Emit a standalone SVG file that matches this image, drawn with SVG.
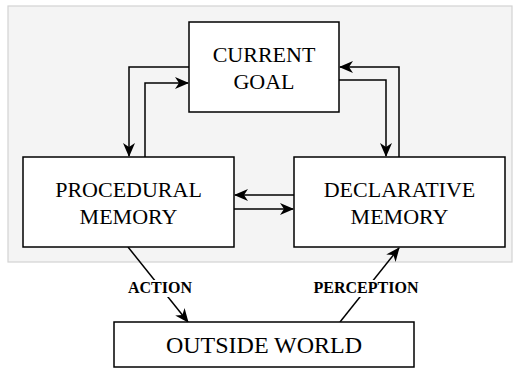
<svg xmlns="http://www.w3.org/2000/svg" width="513" height="369" viewBox="0 0 513 369">
  <style>
    .box { fill: #ffffff; stroke: #000000; stroke-width: 1.5; }
    .lbl { font-family: "Liberation Serif", "Times New Roman", serif; font-size: 22px; fill: #000; text-anchor: middle; }
    .edge { fill: none; stroke: #000000; stroke-width: 1.5; marker-end: url(#arrow); }
    .tag { font-family: "Liberation Serif", "Times New Roman", serif; font-size: 16px; font-weight: bold; fill: #000; text-anchor: middle; }
  </style>
  <defs>
    <marker id="arrow" viewBox="0 0 14 12" refX="13" refY="6" markerWidth="14" markerHeight="12" markerUnits="userSpaceOnUse" orient="auto">
      <path d="M0,0 L14,6 L0,12 L4,6 z" fill="#000"/>
    </marker>
  </defs>

  <!-- mind region -->
  <rect x="8" y="6" width="504" height="256" fill="#f4f4f4" stroke="#d2d2d2" stroke-width="1.2"/>

  <g id="connectors">
    <!-- goal <-> procedural -->
    <path class="edge" d="M189,67 H129 V156"/>
    <path class="edge" d="M145,157 V83 H188"/>
    <!-- goal <-> declarative -->
    <path class="edge" d="M339,80 H386 V156"/>
    <path class="edge" d="M399,157 V67 H340"/>
    <!-- procedural <-> declarative -->
    <path class="edge" d="M294,195 H235"/>
    <path class="edge" d="M234,209 H293"/>
    <!-- world links -->
    <path class="edge" d="M128,247 L188,322"/>
    <path class="edge" d="M340,322 L399,248"/>
    <rect x="126" y="280" width="68" height="17" fill="#ffffff"/>
    <text class="tag" x="160" y="293">ACTION</text>
    <rect x="310" y="280" width="112" height="17" fill="#ffffff"/>
    <text class="tag" x="366" y="293">PERCEPTION</text>
  </g>

  <g id="current-goal">
    <rect class="box" x="189" y="22" width="150" height="90"/>
    <text class="lbl" x="264" y="62">CURRENT</text>
    <text class="lbl" x="264" y="89">GOAL</text>
  </g>

  <g id="procedural-memory">
    <rect class="box" x="23" y="157" width="211" height="90"/>
    <text class="lbl" x="128.5" y="197">PROCEDURAL</text>
    <text class="lbl" x="128.5" y="224">MEMORY</text>
  </g>

  <g id="declarative-memory">
    <rect class="box" x="294" y="157" width="211" height="90"/>
    <text class="lbl" x="399.5" y="197">DECLARATIVE</text>
    <text class="lbl" x="399.5" y="224">MEMORY</text>
  </g>

  <g id="outside-world">
    <rect class="box" x="114" y="322" width="300" height="45"/>
    <text class="lbl" x="264" y="353" style="font-size:24px">OUTSIDE WORLD</text>
  </g>
</svg>
